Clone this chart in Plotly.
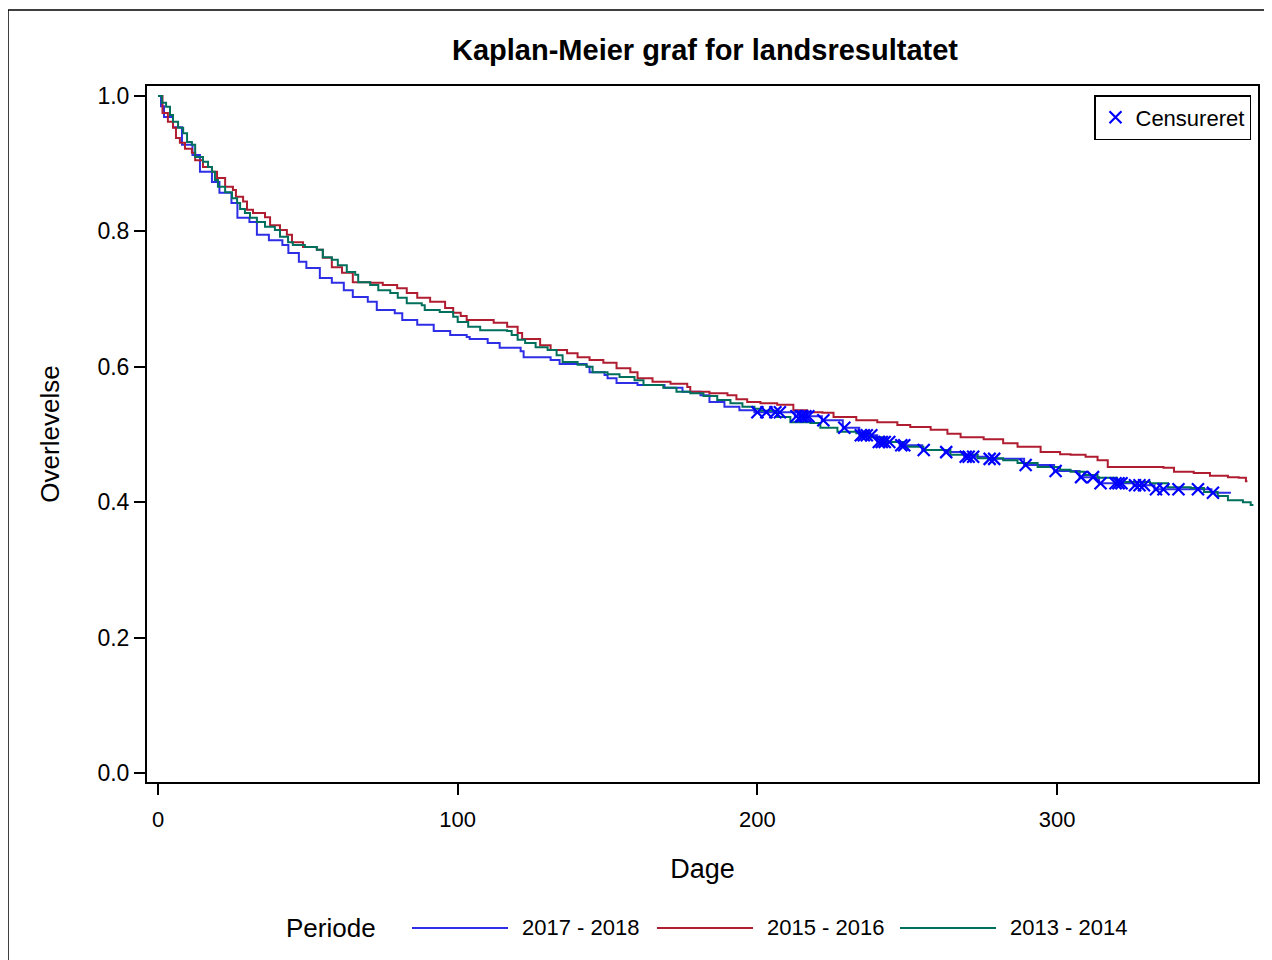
import plotly.graph_objects as go

# ---------------- data ----------------
blue_days = [0, 1, 2, 5, 8, 11.5, 14, 18, 20.5, 24.5, 26.5, 30.5, 33, 37, 41.5, 43.5, 47, 49.5, 54, 58,
             62, 65, 70, 73, 79, 81.5, 86.5, 92, 97.5, 103, 104, 110, 114, 121, 122, 131, 134, 143, 144, 149,
             150, 153, 160, 169, 175, 181, 184, 189, 194, 199, 212.5, 221.5, 228.5, 234, 240, 247.5, 255, 262.5, 269, 277,
             289, 299, 307.5, 314, 325.5, 332.5, 351.5, 358]
blue_surv = [1.0, 0.985, 0.969, 0.954, 0.928, 0.913, 0.888, 0.873, 0.857, 0.842, 0.820, 0.814, 0.795, 0.787, 0.780, 0.768, 0.755, 0.746, 0.731, 0.724,
             0.713, 0.703, 0.696, 0.684, 0.679, 0.669, 0.662, 0.653, 0.647, 0.644, 0.641, 0.635, 0.628, 0.623, 0.614, 0.610, 0.604, 0.600, 0.592, 0.588,
             0.583, 0.576, 0.573, 0.569, 0.563, 0.558, 0.548, 0.541, 0.536, 0.533, 0.527, 0.521, 0.510, 0.499, 0.489, 0.484, 0.477, 0.474, 0.467, 0.464,
             0.455, 0.446, 0.437, 0.428, 0.425, 0.419, 0.414, 0.414]

red_days = [0, 1.5, 3.3, 5, 6, 7.3, 9, 11.3, 12.4, 15, 18, 19.7, 22.4, 25, 26, 28.4, 29.7, 31.7, 35.7, 37.4,
            40.7, 43, 44.7, 48.4, 53, 55, 58, 61.4, 65, 70.8, 75, 79.8, 83, 86.5, 90.8, 95.8, 98.5, 101, 103, 112,
            116.5, 120, 121.5, 127.5, 131, 136.5, 140, 144, 148.6, 153, 157.6, 160, 165, 171, 176.6, 177.6, 184, 190, 193, 196.6,
            201, 206.6, 212, 216.6, 221.7, 225.4, 233, 240, 246.7, 251, 257.8, 263.4, 267.8, 275.5, 282, 286.8, 294.5, 301, 304.5, 309.5,
            313.5, 316.9, 335.5, 339, 345.6, 351, 357, 360.6, 363, 363.5]
red_surv = [1.0, 0.975, 0.962, 0.953, 0.938, 0.931, 0.922, 0.916, 0.905, 0.895, 0.888, 0.879, 0.866, 0.861, 0.851, 0.844, 0.832, 0.827, 0.821, 0.809,
            0.802, 0.795, 0.784, 0.777, 0.773, 0.761, 0.747, 0.739, 0.725, 0.724, 0.721, 0.716, 0.709, 0.702, 0.696, 0.687, 0.680, 0.675, 0.669, 0.665,
            0.659, 0.650, 0.641, 0.632, 0.625, 0.620, 0.614, 0.610, 0.606, 0.598, 0.592, 0.583, 0.578, 0.575, 0.570, 0.563, 0.561, 0.558, 0.552, 0.548,
            0.546, 0.544, 0.536, 0.533, 0.532, 0.526, 0.521, 0.518, 0.514, 0.511, 0.507, 0.501, 0.496, 0.493, 0.487, 0.482, 0.474, 0.471, 0.470, 0.467,
            0.462, 0.452, 0.451, 0.445, 0.443, 0.439, 0.437, 0.436, 0.431, 0.431]

green_days = [0, 1.3, 2.7, 4, 5, 6.7, 8.4, 9.7, 11.3, 12.4, 15, 16.7, 18, 19, 20, 22.4, 24.7, 26.4, 27.4, 29,
              30.7, 33, 35.7, 39, 40.7, 43.4, 45, 49, 53, 55, 58, 60, 63, 65.8, 66.8, 70.8, 73.5, 77.5, 80, 83,
              88, 89, 94, 98.5, 100, 103.5, 107.5, 116.5, 118, 120, 122.5, 126, 130, 133, 135, 140, 143, 145, 150, 154,
              159, 162, 168.6, 173, 177.6, 182, 186.6, 191, 195, 199, 201, 206.6, 211, 217.7, 221, 226.7, 233, 237.7, 242, 248.8,
              255.4, 264.4, 273.5, 282, 286.8, 293.5, 301, 304.5, 309, 313.5, 320, 331, 337, 344.6, 349, 353.6, 357, 362, 364.6, 365.5]
green_surv = [1.0, 0.990, 0.984, 0.972, 0.962, 0.953, 0.945, 0.932, 0.928, 0.910, 0.903, 0.895, 0.888, 0.876, 0.866, 0.858, 0.849, 0.842, 0.833, 0.827,
              0.820, 0.814, 0.807, 0.802, 0.792, 0.784, 0.780, 0.777, 0.773, 0.762, 0.758, 0.750, 0.740, 0.736, 0.725, 0.721, 0.713, 0.709, 0.702, 0.694,
              0.691, 0.684, 0.681, 0.674, 0.666, 0.659, 0.654, 0.653, 0.647, 0.640, 0.635, 0.629, 0.625, 0.617, 0.607, 0.603, 0.600, 0.592, 0.589, 0.585,
              0.580, 0.573, 0.569, 0.563, 0.561, 0.557, 0.551, 0.546, 0.541, 0.538, 0.535, 0.526, 0.518, 0.517, 0.510, 0.504, 0.502, 0.496, 0.489, 0.482,
              0.477, 0.470, 0.465, 0.462, 0.458, 0.452, 0.448, 0.445, 0.440, 0.436, 0.430, 0.428, 0.422, 0.421, 0.415, 0.409, 0.403, 0.400, 0.396, 0.396]

cens_days = [200, 203, 206, 207.5, 213, 214.5, 215, 216, 217, 222, 229, 234.5, 235.5, 236.5, 238, 240.5, 241.5, 242.5, 244, 248,
             249, 255.5, 263, 269.5, 270.5, 272, 277.5, 279, 289.5, 299.5, 308, 312, 314.5, 319.5, 320.5, 321.5, 326, 327.5, 329, 333,
             335.5, 340.5, 347, 352]
cens_surv = [0.533, 0.533, 0.533, 0.533, 0.527, 0.527, 0.527, 0.527, 0.527, 0.521, 0.510, 0.499, 0.499, 0.499, 0.499, 0.489, 0.489, 0.489, 0.489, 0.484,
             0.484, 0.477, 0.474, 0.467, 0.467, 0.467, 0.464, 0.464, 0.455, 0.446, 0.437, 0.437, 0.428, 0.428, 0.428, 0.428, 0.425, 0.425, 0.425, 0.419,
             0.419, 0.419, 0.419, 0.414]

series_names = ["2017 - 2018", "2015 - 2016", "2013 - 2014"]
series_colors = ["#2E2EE6", "#B01C30", "#00705C"]
x_ticks = [0, 100, 200, 300]
y_ticks = [0.0, 0.2, 0.4, 0.6, 0.8, 1.0]

FONT = "Liberation Sans, Arial, sans-serif"

# The page body adds an 8px offset; build the figure 8px smaller so it fits.
OFF = 8
FIG_W, FIG_H = 1272 - OFF, 960 - OFF

# plot area in screenshot pixels
L, R, T, B = 147, 1258, 86, 782
W, H = R - L, B - T

def px(x):
    return (x - L) / W

def py(y):
    return (B - y) / H

fig = go.Figure()
for name, col, d, s in zip(series_names, series_colors,
                           [blue_days, red_days, green_days],
                           [blue_surv, red_surv, green_surv]):
    fig.add_trace(go.Scatter(x=d, y=s, mode="lines", name=name,
                             line=dict(shape="hv", color=col, width=2),
                             showlegend=False))

fig.add_trace(go.Scatter(x=cens_days, y=cens_surv, mode="markers", name="Censureret",
                         marker=dict(symbol="x-thin-open", size=12,
                                     line=dict(width=2.2, color="#0000FF"), color="#0000FF"),
                         showlegend=True))

shapes = []
# outer page frame
shapes.append(dict(type="rect", xref="paper", yref="paper",
                   x0=px(8), x1=px(1269), y0=py(985), y1=py(10),
                   line=dict(color="black", width=1.5), fillcolor="rgba(0,0,0,0)", layer="below"))
annotations = []
# bottom legend (Periode)
leg_y = py(928)
annotations.append(dict(text="Periode", xref="paper", yref="paper", x=px(331), y=leg_y,
                        xanchor="center", yanchor="middle", showarrow=False,
                        font=dict(family=FONT, size=26, color="black")))
line_starts = [412, 657, 900]
for name, col, xs in zip(series_names, series_colors, line_starts):
    shapes.append(dict(type="line", xref="paper", yref="paper", x0=px(xs), x1=px(xs + 96),
                       y0=leg_y, y1=leg_y, line=dict(color=col, width=2)))
    annotations.append(dict(text=name, xref="paper", yref="paper", x=px(xs + 108), y=leg_y,
                            xanchor="left", yanchor="middle", showarrow=False,
                            font=dict(family=FONT, size=22, color="black")))

fig.update_layout(
    width=FIG_W, height=FIG_H,
    margin=dict(l=L - OFF, r=FIG_W - (R - OFF), t=T - OFF, b=FIG_H - (B - OFF)),
    paper_bgcolor="white", plot_bgcolor="white",
    font=dict(family=FONT, color="black"),
    title=dict(text="Kaplan-Meier graf for landsresultatet", x=px(705), xref="paper",
               xanchor="center", y=1 - (50 - OFF) / FIG_H, yanchor="middle",
               font=dict(family=FONT, size=29, color="black", weight="bold")),
    xaxis=dict(range=[(L - 158) / 2.997, (R - 158) / 2.997], tickvals=x_ticks,
               ticktext=[str(v) for v in x_ticks],
               showgrid=False, zeroline=False, showline=True, linecolor="black", linewidth=2,
               mirror=True, ticks="outside", ticklen=11, tickwidth=2, tickcolor="black",
               ticklabelstandoff=6, tickfont=dict(family=FONT, size=22, color="black"),
               title=dict(text="Dage", standoff=28, font=dict(family=FONT, size=27, color="black"))),
    yaxis=dict(range=[(773 - B) / 677, (773 - T) / 677], tickvals=y_ticks,
               ticktext=[f"{v:.1f}" for v in y_ticks],
               showgrid=False, zeroline=False, showline=True, linecolor="black", linewidth=2,
               mirror=True, ticks="outside", ticklen=11, tickwidth=2, tickcolor="black",
               ticklabelstandoff=0, tickfont=dict(family=FONT, size=23, color="black"),
               title=dict(text="Overlevelse", standoff=30, font=dict(family=FONT, size=26, color="black"))),
    legend=dict(x=px(1251), y=py(95), xanchor="right", yanchor="top",
                bordercolor="black", borderwidth=1.5, bgcolor="white",
                font=dict(family=FONT, size=22, color="black"),
                itemwidth=30, tracegroupgap=0),
    shapes=shapes,
    annotations=annotations,
)

fig.write_html("out.html")
